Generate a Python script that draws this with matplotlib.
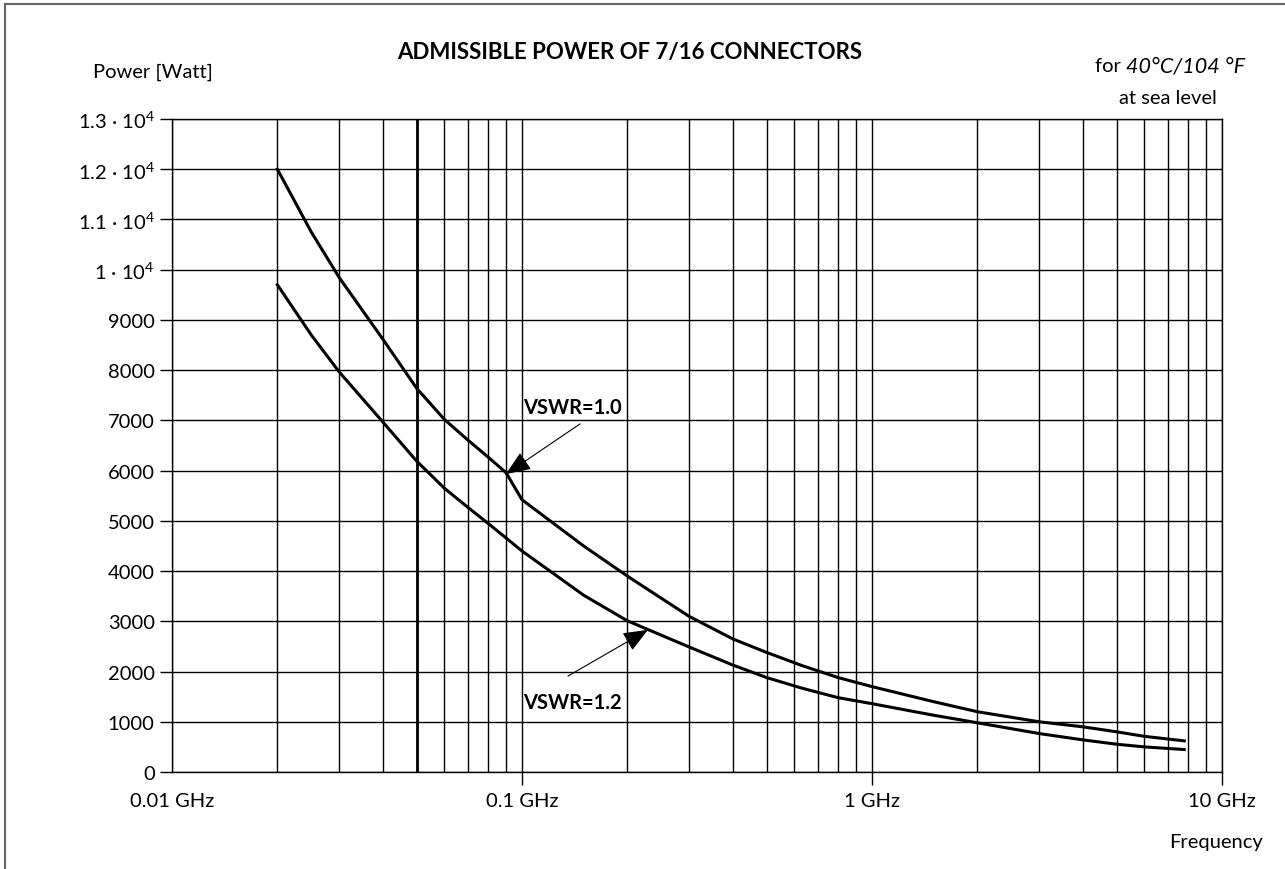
import numpy as np
import matplotlib
matplotlib.use('Agg')
import matplotlib.pyplot as plt
from matplotlib.lines import Line2D
from matplotlib.ticker import FixedLocator, NullFormatter

# values (frequency in GHz, power in Watt)
freq = [0.02, 0.025, 0.03, 0.04, 0.05, 0.06, 0.07, 0.08, 0.09, 0.1, 0.15, 0.2,
        0.3, 0.4, 0.5, 0.63, 0.8, 1.0, 1.5, 2.0, 3.0, 4.0, 5.0, 6.0, 7.8]
p_vswr10 = [12000, 10750, 9850, 8620, 7640, 7020, 6610, 6270, 5960, 5420, 4500, 3900,
            3100, 2650, 2380, 2120, 1880, 1700, 1400, 1200, 1000, 900, 800, 710, 620]
p_vswr12 = [9700, 8700, 7970, 6970, 6190, 5650, 5270, 4950, 4660, 4400, 3520, 3010,
            2490, 2130, 1880, 1670, 1480, 1360, 1130, 980, 766, 640, 553, 500, 447]

x_ticks = [0.01, 0.1, 1, 10]
x_labels = ['0.01 GHz', '0.1 GHz', '1 GHz', '10 GHz']
y_ticks = list(range(0, 13001, 1000))
y_labels = ['0', '1000', '2000', '3000', '4000', '5000', '6000', '7000', '8000', '9000',
            '1 · 10$^{4}$', '1.1 · 10$^{4}$', '1.2 · 10$^{4}$', '1.3 · 10$^{4}$']

FONT = 'Lato'
FS = 14.5


def main():
    plt.rcParams['font.family'] = [FONT, 'DejaVu Sans']
    plt.rcParams['mathtext.fontset'] = 'custom'
    plt.rcParams['mathtext.rm'] = FONT
    plt.rcParams['mathtext.default'] = 'regular'

    W, H = 1285, 870
    fig = plt.figure(figsize=(W / 100, H / 100), dpi=100)
    ax = fig.add_axes([172 / W, 1 - 773 / H, (1222 - 172) / W, (773 - 120) / H])

    ax.set_xscale('log')
    ax.set_xlim(0.01, 10)
    ax.set_ylim(0, 13000)

    # grid: decades + 2..9 minor lines, every 1000 W
    minors = [m * 10.0 ** e for e in (-2, -1, 0) for m in range(2, 10)]
    ax.xaxis.set_major_locator(FixedLocator(x_ticks))
    ax.xaxis.set_minor_locator(FixedLocator(minors))
    ax.xaxis.set_minor_formatter(NullFormatter())
    ax.set_xticklabels(x_labels)
    ax.set_yticks(y_ticks)
    ax.set_yticklabels(y_labels)
    ax.grid(True, which='both', axis='x', color='black', lw=1.0)
    ax.grid(True, which='major', axis='y', color='black', lw=1.0)
    ax.axvline(0.05, color='black', lw=2.0)

    ax.tick_params(axis='x', which='major', direction='out', length=9.5, width=1.0,
                   pad=5, labelsize=FS)
    ax.tick_params(axis='x', which='minor', length=0)
    ax.tick_params(axis='y', direction='out', length=9, width=1.0, pad=3.5, labelsize=FS)
    ax.xaxis.get_major_ticks()[0].tick1line.set_visible(False)
    for s in ax.spines.values():
        s.set_linewidth(1.0)

    ax.plot(freq, p_vswr10, color='black', lw=2.2)
    ax.plot(freq, p_vswr12, color='black', lw=2.2)

    arrow = dict(arrowstyle='-|>,head_length=1.1,head_width=0.45', color='black',
                 lw=0.8, mutation_scale=14, shrinkA=0, shrinkB=0)
    ax.annotate('', xy=(0.09, 5930), xytext=(0.1465, 6930), arrowprops=arrow)
    ax.annotate('', xy=(0.229, 2830), xytext=(0.1353, 1910), arrowprops=arrow)
    ax.text(0.1007, 7267, 'VSWR=1.0', fontsize=FS, fontweight='bold', va='center', ha='left')
    ax.text(0.1007, 1394, 'VSWR=1.2', fontsize=FS, fontweight='bold', va='center', ha='left')

    fig.text(630 / W, 1 - 52 / H, 'ADMISSIBLE POWER OF 7/16 CONNECTORS', fontsize=16,
             fontweight='bold', ha='center', va='center')
    fig.text(93 / W, 1 - 72 / H, 'Power [Watt]', fontsize=FS, ha='left', va='center')
    it = fig.text(1245 / W, 1 - 66 / H, '40°C/104 °F', fontsize=FS + 1, style='italic',
                  ha='right', va='center')
    fig.canvas.draw()
    x0 = it.get_window_extent().x0
    fig.text(x0 / W, 1 - 66 / H, 'for ', fontsize=FS, ha='right', va='center')
    fig.text(1217 / W, 1 - 98 / H, 'at sea level', fontsize=FS, ha='right', va='center')
    fig.text(1216 / W, 1 - 843 / H, 'Frequency', fontsize=FS, ha='center', va='center')

    # page frame (top and left edge)
    fig.add_artist(Line2D([5 / W, 1], [1 - 5 / H, 1 - 5 / H], color='#666666', lw=1.5))
    fig.add_artist(Line2D([5 / W, 5 / W], [0, 1 - 5 / H], color='#666666', lw=1.5))

    fig.savefig('out.png', dpi=100)


if __name__ == '__main__':
    main()
